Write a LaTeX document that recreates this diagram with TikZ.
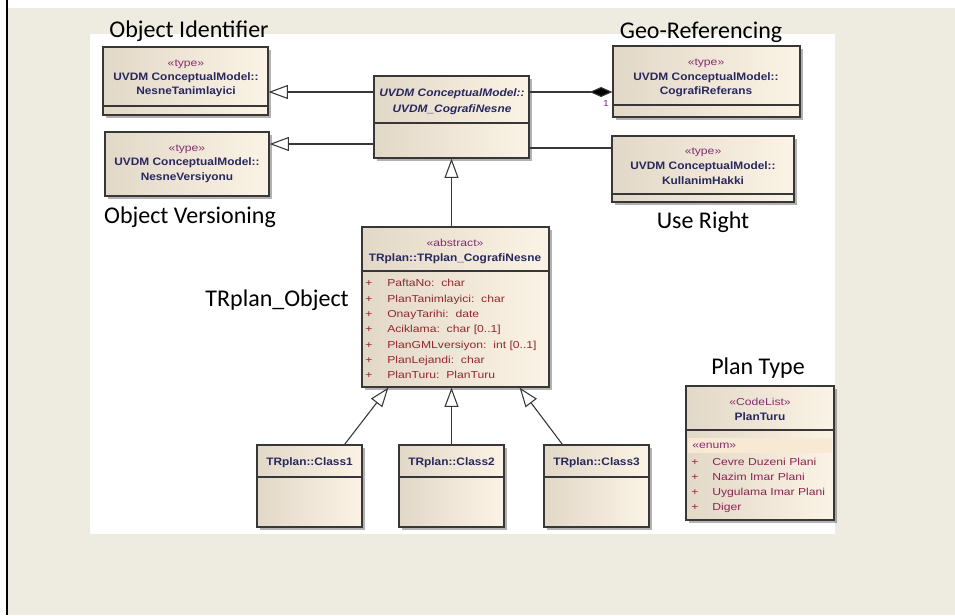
\documentclass[tikz,border=0pt]{standalone}
\usepackage{fontspec}
\usetikzlibrary{arrows.meta,fit,shadows,calc}
\setmainfont{Carlito}
\newfontfamily\umlR[FakeStretch=1.2]{Liberation Sans}
\newfontfamily\umlB[FakeStretch=1.1]{Liberation Sans}
\definecolor{bg}{RGB}{238,235,225}
\definecolor{boxL}{RGB}{226,216,200}
\definecolor{boxR}{RGB}{251,243,229}
\definecolor{boxline}{RGB}{55,55,55}
\definecolor{stc}{RGB}{130,45,110}
\definecolor{namec}{RGB}{40,40,95}
\definecolor{attrc}{RGB}{145,40,45}
\definecolor{enumc}{RGB}{140,35,80}
\definecolor{band}{RGB}{248,233,212}
\tikzset{
  umlbox/.style={draw=boxline, line width=0.9pt, inner sep=0pt, left color=boxL, right color=boxR,
    drop shadow={shadow xshift=2.2pt, shadow yshift=-2.2pt, fill=black, opacity=0.3}},
  divider/.style={draw=boxline, line width=0.8pt},
  ster/.style={font=\umlR\fontsize{7.6}{9}\selectfont, text=stc, inner sep=0pt, text height=0.72em, text depth=0.2em},
  cname/.style={font=\umlB\bfseries\fontsize{8.1}{9}\selectfont, text=namec, inner sep=0pt, text height=0.72em, text depth=0.2em},
  cnamei/.style={font=\umlB\bfseries\itshape\fontsize{8.1}{9}\selectfont, text=namec, inner sep=0pt, text height=0.72em, text depth=0.2em},
  attr/.style={font=\umlR\fontsize{7.6}{9}\selectfont, text=attrc, inner sep=0pt, anchor=west, text height=0.72em, text depth=0.2em},
  plus/.style={font=\umlR\fontsize{7.6}{9}\selectfont, text=attrc, inner sep=0pt, text height=0.72em, text depth=0.2em},
  enumi/.style={font=\umlR\fontsize{7.6}{9}\selectfont, text=enumc, inner sep=0pt, anchor=west, text height=0.72em, text depth=0.2em},
  biglabel/.style={font=\fontsize{18}{20}\selectfont, text=black, inner sep=0pt, anchor=base},
  conn/.style={draw=boxline, line width=0.8pt},
  gen/.style={conn, -{Triangle[length=14.5pt, width=10.5pt, fill=white, line width=0.8pt]}},
  comp/.style={conn, -{Diamond[length=17pt, width=7.5pt, fill=black]}},
}
\begin{document}
\begin{tikzpicture}[x=0.75pt,y=-0.75pt]
\useasboundingbox (0,0) rectangle (955,615);
\fill[white] (0,0) rectangle (955,615);
\fill[bg] (8,8) rectangle (955,615);
\draw[line width=1.5pt] (7,0) -- (7,615);
\fill[white] (90,34) rectangle (835,534);

% boxes
\node[umlbox, fit={(103,47)(268,115)}] (ident) {};
\node[umlbox, fit={(105,132)(269,196)}] (ver) {};
\node[umlbox, fit={(374,76)(529,158)}] (cn) {};
\node[umlbox, fit={(613,46)(800,117)}] (geo) {};
\node[umlbox, fit={(612,136)(794,202)}] (use) {};
\node[umlbox, fit={(362,227)(549,387)}] (tr) {};
\node[umlbox, fit={(257,445)(362,527)}] (c1) {};
\node[umlbox, fit={(399,445)(504,527)}] (c2) {};
\node[umlbox, fit={(544,445)(649,527)}] (c3) {};
\node[umlbox, fit={(686,386)(834,520)}] (pt) {};

% dividers
\draw[divider] (ident.west |- 0,106) -- (ident.east |- 0,106);
\draw[divider] (cn.west |- 0,123) -- (cn.east |- 0,123);
\draw[divider] (geo.west |- 0,105) -- (geo.east |- 0,105);
\draw[divider] (use.west |- 0,194) -- (use.east |- 0,194);
\draw[divider] (tr.west |- 0,271) -- (tr.east |- 0,271);
\draw[divider] (c1.west |- 0,477) -- (c1.east |- 0,477);
\draw[divider] (c2.west |- 0,477) -- (c2.east |- 0,477);
\draw[divider] (c3.west |- 0,477) -- (c3.east |- 0,477);
\draw[divider] (pt.west |- 0,430) -- (pt.east |- 0,430);
\fill[band] (688,438) rectangle (832,453);

% texts in boxes
\node[ster] (identS) at (186,63) {«type»};
\node[cname] (identM) at (186,77) {UVDM ConceptualModel::};
\node[cname] (identN) at (186,91) {NesneTanimlayici};
\node[ster] (verS) at (187,148) {«type»};
\node[cname] (verM) at (187,162) {UVDM ConceptualModel::};
\node[cname] (verN) at (187,177) {NesneVersiyonu};
\node[cnamei] (cnM) at (452,93) {UVDM ConceptualModel::};
\node[cnamei] (cnN) at (452,109) {UVDM\_CografiNesne};
\node[ster] (geoS) at (706,62) {«type»};
\node[cname] (geoM) at (706,77) {UVDM ConceptualModel::};
\node[cname] (geoN) at (706,91) {CografiReferans};
\node[ster] (useS) at (703,151) {«type»};
\node[cname] (useM) at (703,166) {UVDM ConceptualModel::};
\node[cname] (useN) at (703,181) {KullanimHakki};
\node[ster] (trS) at (455,243) {«abstract»};
\node[cname] (trN) at (455,258) {TRplan::TRplan\_CografiNesne};
\node[plus] (p1) at (369,283) {+};
\node[plus] (p2) at (369,299) {+};
\node[plus] (p3) at (369,314) {+};
\node[plus] (p4) at (369,329) {+};
\node[plus] (p5) at (369,345) {+};
\node[plus] (p6) at (369,360) {+};
\node[plus] (p7) at (369,375) {+};
\node[attr] (a1) at (387,283) {PaftaNo:\ \ char};
\node[attr] (a2) at (387,299) {PlanTanimlayici:\ \ char};
\node[attr] (a3) at (387,314) {OnayTarihi:\ \ date};
\node[attr] (a4) at (387,329) {Aciklama:\ \ char [0..1]};
\node[attr] (a5) at (387,345) {PlanGMLversiyon:\ \ int [0..1]};
\node[attr] (a6) at (387,360) {PlanLejandi:\ \ char};
\node[attr] (a7) at (387,375) {PlanTuru:\ \ PlanTuru};
\node[cname] (c1N) at (309.5,462) {TRplan::Class1};
\node[cname] (c2N) at (451.5,462) {TRplan::Class2};
\node[cname] (c3N) at (596.5,462) {TRplan::Class3};
\node[ster] (ptS) at (760,402) {«CodeList»};
\node[cname] (ptN) at (760,417) {PlanTuru};
\node[enumi, text=stc] (ptE) at (692,445) {«enum»};
\node[plus] (q1) at (695,462) {+};
\node[plus] (q2) at (695,477) {+};
\node[plus] (q3) at (695,492) {+};
\node[plus] (q4) at (695,507) {+};
\node[enumi] (e1) at (712,462) {Cevre Duzeni Plani};
\node[enumi] (e2) at (712,477) {Nazim Imar Plani};
\node[enumi] (e3) at (712,492) {Uygulama Imar Plani};
\node[enumi] (e4) at (712,507) {Diger};

% connectors
\draw[gen] (cn.west |- 0,92) -- (ident.east |- 0,92);
\draw[gen] (cn.west |- 0,144) -- (ver.east |- 0,144);
\draw[comp] (cn.east |- 0,92) -- (geo.west |- 0,92);
\node[font=\umlR\fontsize{6.5}{8}\selectfont, text=stc, inner sep=0pt] (mult) at (606,104) {1};
\draw[conn] (cn.east |- 0,148) -- (use.west |- 0,148);
\draw[gen] (cn.south |- tr.north) -- (cn.south);
\draw[gen] ([xshift=-13.5pt]c1.north east) -- ([xshift=20.25pt]tr.south west);
\draw[gen] (c2.north) -- (c2.north |- tr.south);
\draw[gen] ([xshift=14.25pt]c3.north west) -- ([xshift=-22.5pt]tr.south east);

% big labels
\node[biglabel] (lObjId) at (189,37) {Object Identifier};
\node[biglabel] (lObjVer) at (190,223) {Object Versioning};
\node[biglabel] (lGeo) at (701,38) {Geo-Referencing};
\node[biglabel] (lUse) at (703,228) {Use Right};
\node[biglabel, anchor=base east] (lTR) at (349,306) {TRplan\_Object};
\node[biglabel] (lPT) at (758,374) {Plan Type};
\end{tikzpicture}
\end{document}
